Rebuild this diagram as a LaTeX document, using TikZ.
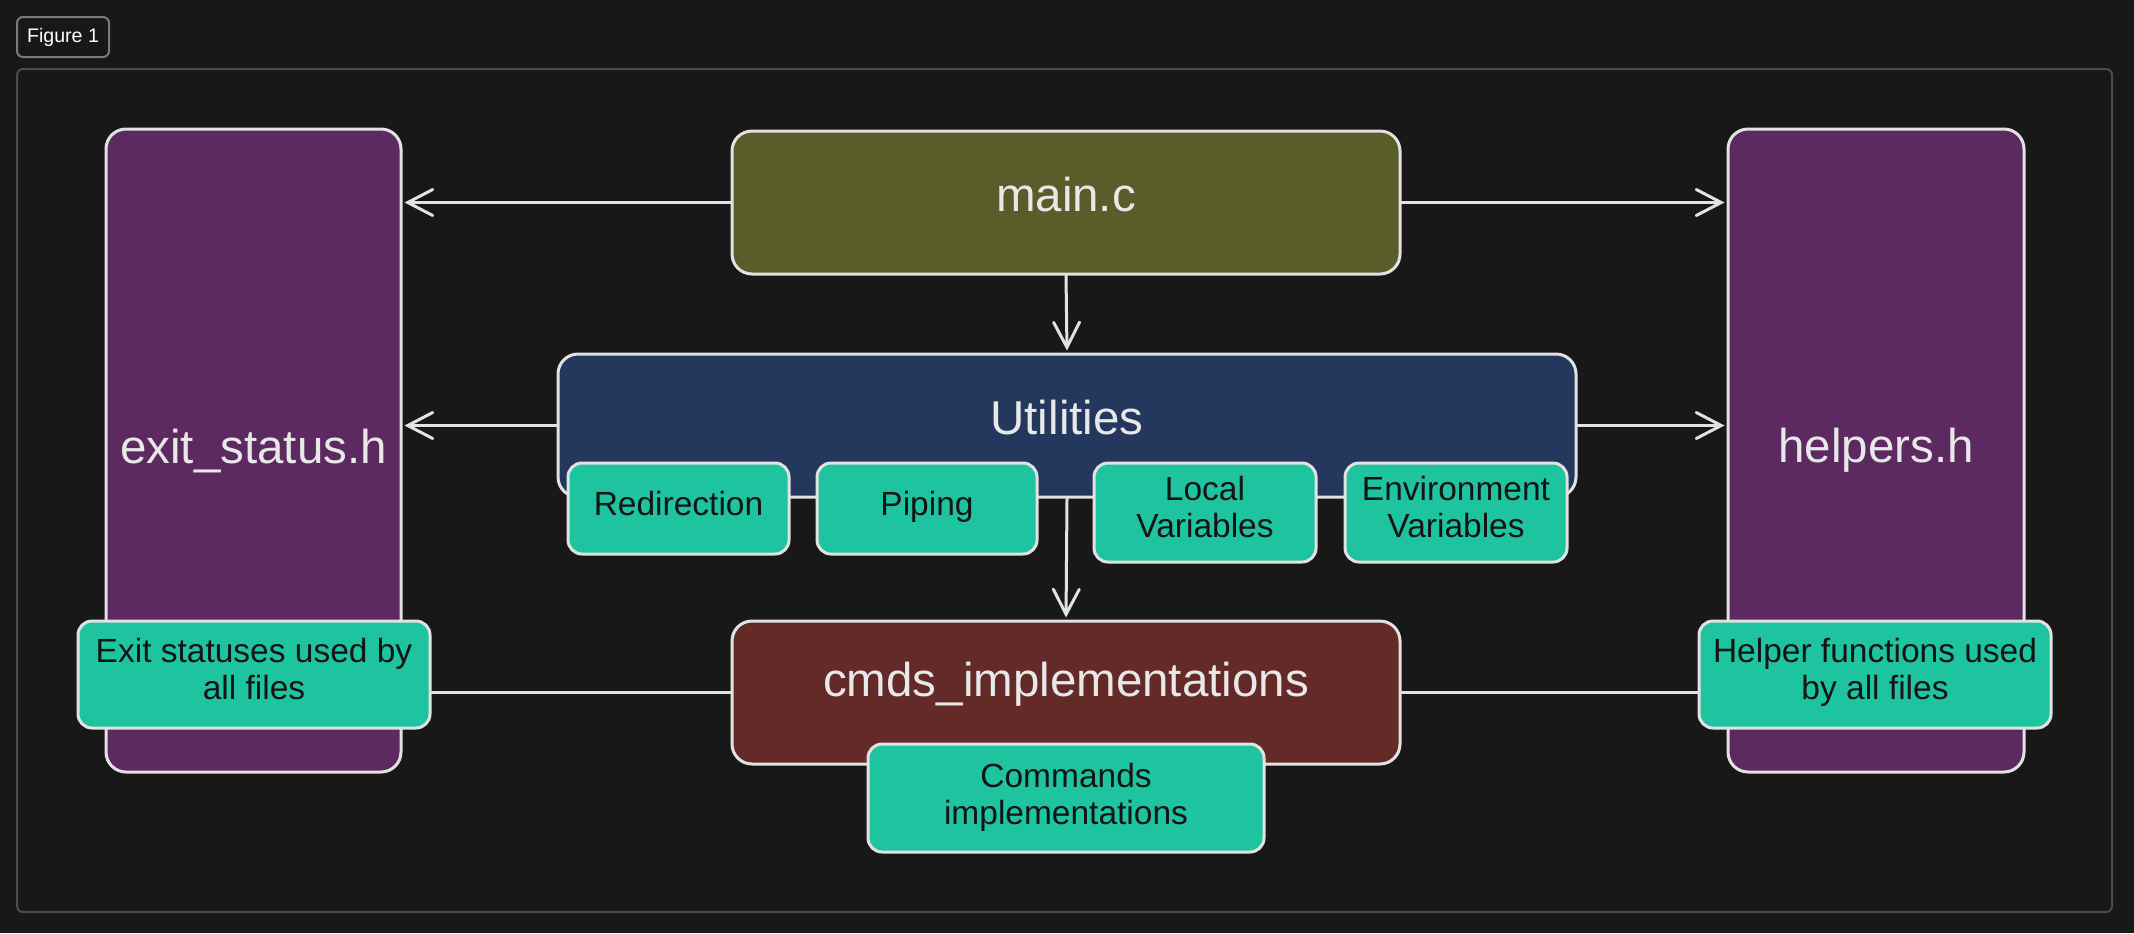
\documentclass[tikz,border=0pt]{standalone}
\usepackage{fontspec}
\setmainfont{Liberation Sans}
\usetikzlibrary{arrows.meta}
\definecolor{bg}{HTML}{181818}
\definecolor{stroke}{HTML}{E2E2E2}
\definecolor{framegray}{HTML}{4C4C4C}
\definecolor{labelgray}{HTML}{7A7A7A}
\definecolor{purp}{HTML}{5C2A60}
\definecolor{olive}{HTML}{5A5C29}
\definecolor{navy}{HTML}{23385C}
\definecolor{brown}{HTML}{632A28}
\definecolor{tealfill}{HTML}{1EC49F}
\definecolor{lighttext}{HTML}{E8E8E8}
\definecolor{darktext}{HTML}{141414}
\begin{document}
\begin{tikzpicture}[x=0.5pt,y=-0.5pt,
  box/.style={draw=stroke, line width=1.5pt, rounded corners=10pt, inner sep=0pt,
    text=lighttext, font=\fontsize{23.75}{28}\selectfont},
  boxtext/.style={label={[text=lighttext, font=\fontsize{23.75}{28}\selectfont, inner sep=0pt, yshift=4pt]center:{#1}}},
  tag/.style={draw=stroke, line width=1.5pt, rounded corners=7pt, fill=tealfill, inner sep=0pt},
  tagtext/.style n args={2}{label={[text=darktext, align=center, inner sep=0pt, font=\fontsize{16.75}{18.5}\selectfont, yshift=#2]center:{#1}}},
  link/.style={draw=stroke, line width=1.5pt, line cap=round},
  arr/.style={link, shorten >=1pt, -{Straight Barb[length=12.5pt,width=13pt,line width=1.5pt,line cap=round]}}]
\fill[bg] (0,0) rectangle (2134,933);
\useasboundingbox (0,0) rectangle (2134,933);
\node[draw=labelgray, line width=1pt, rounded corners=3pt, minimum width=46pt,
  minimum height=20pt, text=white, font=\fontsize{9.8}{12}\selectfont, inner sep=0pt]
  (fig) at (63,37) {Figure 1};
\draw[framegray, line width=1pt, rounded corners=3pt] (17,69) rectangle (2112,912);

\node[box, fill=purp, minimum width=147.5pt, minimum height=321.5pt] (exit) at (253.5,450.5) {exit\_status.h};
\node[box, fill=purp, minimum width=148pt, minimum height=321.5pt] (helpers) at (1876,450.5) {helpers.h};
\node[box, fill=olive, minimum width=334pt, minimum height=71.5pt, boxtext={main.c}] (main) at (1066,202.5) {};
\node[box, fill=navy, minimum width=509pt, minimum height=71.5pt, boxtext={Utilities}] (util) at (1067,425.5) {};
\node[box, fill=brown, minimum width=334pt, minimum height=71.5pt, boxtext={cmds\_implementations}] (cmds) at (1066,692.5) {};

\draw[arr] (main.west) -- (main.west -| exit.east);
\draw[arr] (main.east) -- (main.east -| helpers.west);
\draw[arr] (main.south) -- (util.north);
\draw[arr] (util.west) -- (util.west -| exit.east);
\draw[arr] (util.east) -- (util.east -| helpers.west);
\draw[arr] (util.south) -- (cmds.north);

\node[tag, minimum width=110.5pt, minimum height=45.5pt, tagtext={Redirection}{2.5pt}] (redir) at (678.5,508.5) {};
\node[tag, minimum width=110pt, minimum height=45.5pt, tagtext={Piping}{1pt}] (piping) at (927,508.5) {};
\node[tag, minimum width=111pt, minimum height=49.5pt, tagtext={Local\\Variables}{2.5pt}] (localv) at (1205,512.5) {};
\node[tag, minimum width=111pt, minimum height=49.5pt, tagtext={Environment\\Variables}{2.5pt}] (envv) at (1456,512.5) {};
\node[tag, minimum width=198pt, minimum height=54pt, tagtext={Commands\\implementations}{0.5pt}] (cmdsl) at (1066,798) {};
\node[tag, minimum width=176pt, minimum height=53.5pt, tagtext={Exit statuses used by\\all files}{2.5pt}] (exitl) at (254,674.5) {};
\node[tag, minimum width=176pt, minimum height=53.5pt, tagtext={Helper functions used\\by all files}{1.2pt}] (helpl) at (1875,674.5) {};

\draw[link] (cmds.west) -- (cmds.west -| exitl.east);
\draw[link] (cmds.east) -- (cmds.east -| helpl.west);
\end{tikzpicture}
\end{document}
